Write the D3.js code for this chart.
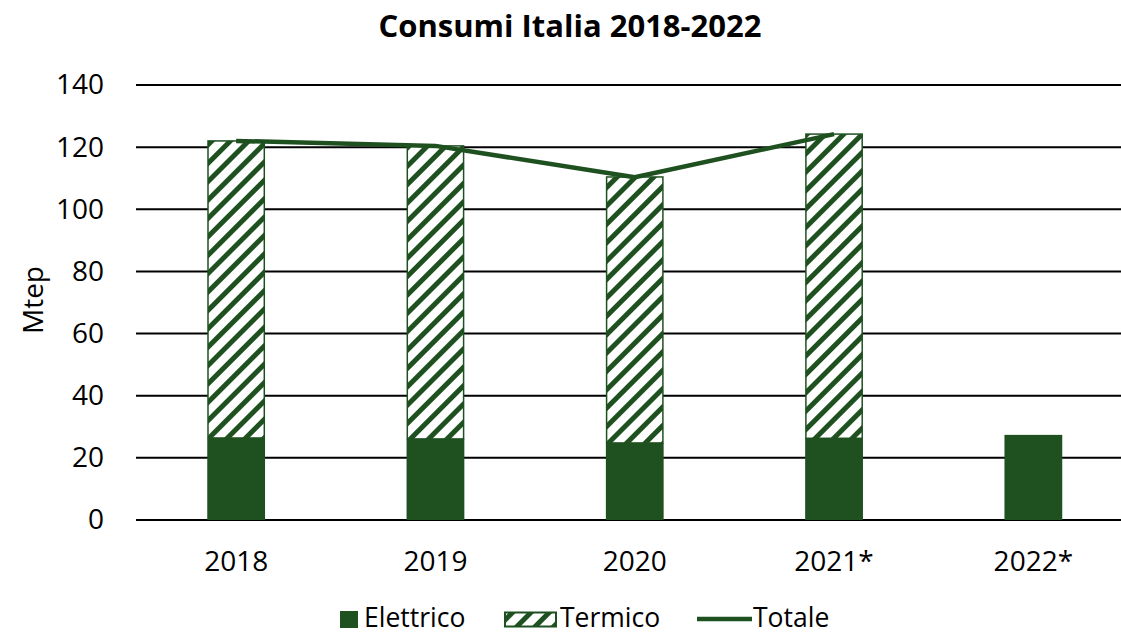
<!DOCTYPE html>
<html>
<head>
<meta charset="utf-8">
<script src="https://cdn.jsdelivr.net/npm/d3@7"></script>
<style>
  body { margin: 0; background: #fff; }
  svg { display: block; font-family: 'Open Sans', sans-serif; }
</style>
</head>
<body>
<div id="chart"></div>
<script>
// --- data ---
const years     = ['2018', '2019', '2020', '2021*', '2022*'];
const elettrico = [26.4, 26.1, 24.8, 26.3, 27.4];
const termico   = [95.6, 94.3, 85.6, 97.9, null];
const totale    = [122.0, 120.4, 110.3, 124.2, null];
const yTicks    = [0, 20, 40, 60, 80, 100, 120, 140];

const green = '#1f5120';
const W = 1121, H = 635;

const svg = d3.select('#chart').append('svg')
  .attr('width', W).attr('height', H);

// hatch pattern for Termico
const defs = svg.append('defs');
const pat = defs.append('pattern')
  .attr('id', 'hatch')
  .attr('patternUnits', 'userSpaceOnUse')
  .attr('width', 13).attr('height', 13)
  .attr('patternTransform', 'rotate(45)');
pat.append('rect').attr('width', 13).attr('height', 13).attr('fill', '#fff');
pat.append('rect').attr('width', 5).attr('height', 13).attr('fill', green);

// scales
const x = d3.scaleBand()
  .domain(years)
  .range([136.5, 1133])
  .paddingInner(0.71)
  .paddingOuter(0.355);
const y = d3.scaleLinear().domain([0, 140]).range([520, 85]);

// title
svg.append('text')
  .attr('x', 570).attr('y', 37)
  .attr('text-anchor', 'middle')
  .style('font-size', '31px').style('font-weight', '700')
  .text('Consumi Italia 2018-2022');

// gridlines
svg.append('g').selectAll('line')
  .data(yTicks).enter().append('line')
    .attr('x1', 136).attr('x2', W)
    .attr('y1', d => y(d)).attr('y2', d => y(d))
    .attr('stroke', '#000').attr('stroke-width', 2);

// y axis labels
const yAxis = svg.append('g')
  .attr('transform', 'translate(104,0)')
  .call(d3.axisLeft(y).tickValues(yTicks).tickSize(0).tickPadding(0));
yAxis.select('.domain').remove();
yAxis.selectAll('text')
  .attr('fill', '#000')
  .style('font-family', 'Open Sans, sans-serif')
  .style('font-size', '28px');

// x axis labels
const xAxis = svg.append('g')
  .attr('transform', 'translate(0,544)')
  .call(d3.axisBottom(x).tickSize(0).tickPadding(0));
xAxis.select('.domain').remove();
xAxis.selectAll('text')
  .attr('dy', '0.95em')
  .attr('fill', '#000')
  .style('font-family', 'Open Sans, sans-serif')
  .style('font-size', '28px');

// y title
svg.append('text')
  .attr('transform', 'translate(43,300) rotate(-90)')
  .attr('text-anchor', 'middle')
  .style('font-size', '28px')
  .text('Mtep');

// Elettrico bars
svg.append('g').selectAll('rect')
  .data(years).enter().append('rect')
    .attr('x', d => x(d))
    .attr('width', x.bandwidth())
    .attr('y', (d, i) => y(elettrico[i]))
    .attr('height', (d, i) => y(0) - y(elettrico[i]))
    .attr('fill', green);

// Termico bars (stacked)
svg.append('g').selectAll('rect')
  .data(years.filter((d, i) => termico[i] != null)).enter().append('rect')
    .attr('x', d => x(d) + 0.75)
    .attr('width', x.bandwidth() - 1.5)
    .attr('y', d => { const i = years.indexOf(d); return y(elettrico[i] + termico[i]); })
    .attr('height', d => { const i = years.indexOf(d); return y(elettrico[i]) - y(elettrico[i] + termico[i]); })
    .attr('fill', 'url(#hatch)')
    .attr('stroke', green).attr('stroke-width', 1.5);

// Totale line
const line = d3.line()
  .defined(d => d.v != null)
  .x(d => x(d.k) + x.bandwidth() / 2)
  .y(d => y(d.v));
svg.append('path')
  .datum(years.map((k, i) => ({ k, v: totale[i] })))
  .attr('d', line)
  .attr('fill', 'none')
  .attr('stroke', green).attr('stroke-width', 4.5)
  .attr('stroke-linejoin', 'round');

// legend
const lg = svg.append('g').style('font-size', '26.5px');
lg.append('rect').attr('x', 340).attr('y', 611).attr('width', 18).attr('height', 17).attr('fill', green);
lg.append('text').attr('x', 364).attr('y', 627).text('Elettrico');
lg.append('rect').attr('x', 505).attr('y', 612.5).attr('width', 51).attr('height', 14)
  .attr('fill', 'url(#hatch)').attr('stroke', green).attr('stroke-width', 2);
lg.append('text').attr('x', 560).attr('y', 627).text('Termico');
lg.append('line').attr('x1', 697).attr('x2', 752).attr('y1', 619).attr('y2', 619)
  .attr('stroke', green).attr('stroke-width', 4.5);
lg.append('text').attr('x', 753).attr('y', 627).text('Totale');
</script>
</body>
</html>
